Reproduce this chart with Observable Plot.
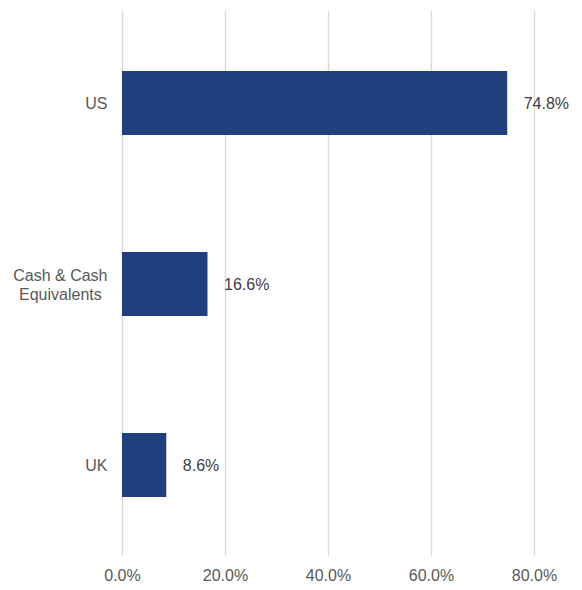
<!DOCTYPE html>
<html>
<head>
<meta charset="utf-8">
<script src="https://cdn.jsdelivr.net/npm/d3@7"></script>
<script src="https://cdn.jsdelivr.net/npm/@observablehq/plot@0.6"></script>
<style>
  html, body { margin: 0; padding: 0; background: #fff; }
  #chart svg { display: block; }
</style>
</head>
<body>
<div id="chart"></div>
<script>
const categories = ["US", "Cash & Cash\nEquivalents", "UK"];
const values = [74.8, 16.6, 8.6];
const xTicks = [0, 20, 40, 60, 80];

const data = categories.map((c, i) => ({category: c, value: values[i]}));

const plot = Plot.plot({
  width: 582,
  height: 590,
  marginLeft: 122,
  marginRight: 48,
  marginTop: 11,
  marginBottom: 34,
  style: {fontFamily: "'Liberation Sans', Arial, sans-serif", fontSize: "16px", background: "#fff"},
  x: {domain: [0, 80], ticks: xTicks, label: null},
  y: {domain: categories, paddingInner: 0.648, paddingOuter: 0.324, label: null},
  marks: [
    Plot.ruleX(xTicks, {stroke: "#d9d9d9", strokeWidth: 1.3}),
    Plot.barX(data, {x: "value", y: "category", fill: "#213f7d"}),
    Plot.text(data, {x: "value", y: "category", text: d => d.value.toFixed(1) + "%", textAnchor: "start", dx: 16, fill: "#404040", fontSize: 16}),
    Plot.axisX({ticks: xTicks, tickSize: 0, tickPadding: 13, tickFormat: d => d.toFixed(1) + "%", fill: "#595959", fontSize: 16, label: null}),
    Plot.axisY({tickSize: 0, tickPadding: 15, fill: "#595959", fontSize: 16, lineHeight: 1.15, label: null})
  ]
});

document.getElementById("chart").appendChild(plot);

// center multi-line y tick labels within their block (right-aligned as a block)
plot.querySelectorAll("g[aria-label='y-axis tick label'] text").forEach(t => {
  if (t.querySelectorAll("tspan").length > 1) {
    const bb = t.getBBox();
    t.setAttribute("text-anchor", "middle");
    t.querySelectorAll("tspan").forEach(ts => ts.setAttribute("x", -bb.width / 2));
  }
});
</script>
</body>
</html>
